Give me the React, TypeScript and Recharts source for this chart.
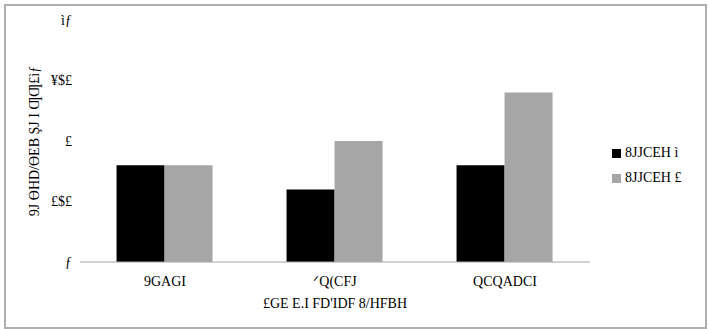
import { Bar, BarChart, XAxis, YAxis, Legend, Label } from "recharts"

const categories = ["9GAGI", "ᐟQ(CFJ\n£GE E.I FD'IDF 8/HFBH", "QCQADCI"]
const seriesA = [0.8, 0.6, 0.8]
const seriesB = [0.8, 1.0, 1.4]
const seriesNames = ["8JJCEH ì", "8JJCEH £"]
const yTicks = [0, 0.5, 1, 1.5, 2]
const yTickLabels = ["ƒ", "£$£", "£", "¥$£", "ìƒ"]
const yTitle = "9J ƟHD/ƟEB ŞJ I ƢƢ£ìƒ"

const data = categories.map((name, i) => ({
  name,
  a: seriesA[i],
  b: seriesB[i],
}))

const font = "'Liberation Serif', serif"

function CategoryTick(props: any) {
  const { x, y, payload } = props
  const lines = String(payload.value).split("\n")
  return (
    <text x={x} y={y} textAnchor="middle" fill="#000" fontSize={14} fontFamily={font}>
      {lines.map((line, i) => (
        <tspan key={i} x={x} dy={i === 0 ? 16 : 22}>
          {line}
        </tspan>
      ))}
    </text>
  )
}

export default function App() {
  return (
    <div style={{ position: "absolute", left: 0, top: 0, width: 708, height: 329, background: "#fff" }}>
      <div
        style={{
          position: "absolute",
          left: 4,
          top: 4,
          width: 699,
          height: 321,
          border: "2px solid #b0b0b0",
        }}
      />
      <BarChart
        width={708}
        height={329}
        data={data}
        margin={{ top: 20, right: 118, bottom: 37, left: 0 }}
        barCategoryGap="21.5%"
        barGap={0}
      >
        <XAxis
          dataKey="name"
          tick={<CategoryTick />}
          tickLine={false}
          axisLine={{ stroke: "#a6a6a6" }}
          interval={0}
        />
        <YAxis
          width={80}
          domain={[0, 2]}
          ticks={yTicks}
          tickFormatter={(v: number) => yTickLabels[yTicks.indexOf(v)]}
          tick={{ fill: "#000", fontSize: 14, fontFamily: font }}
          tickLine={false}
          axisLine={false}
        >
          <Label
            value={yTitle}
            angle={-90}
            position="insideLeft"
            offset={34}
            style={{ textAnchor: "middle", fill: "#000", fontSize: 14, fontFamily: font }}
          />
        </YAxis>
        <Legend
          layout="vertical"
          align="center"
          verticalAlign="middle"
          iconType="square"
          iconSize={9}
          itemSorter="dataKey"
          wrapperStyle={{ left: 612, top: 140, width: 90, fontFamily: font, fontSize: 14, lineHeight: "25px" }}
          formatter={(value: string) => <span style={{ color: "#000" }}>{value}</span>}
        />
        <Bar dataKey="a" name={seriesNames[0]} fill="#000000" isAnimationActive={false} />
        <Bar dataKey="b" name={seriesNames[1]} fill="#a6a6a6" isAnimationActive={false} />
      </BarChart>
    </div>
  )
}
